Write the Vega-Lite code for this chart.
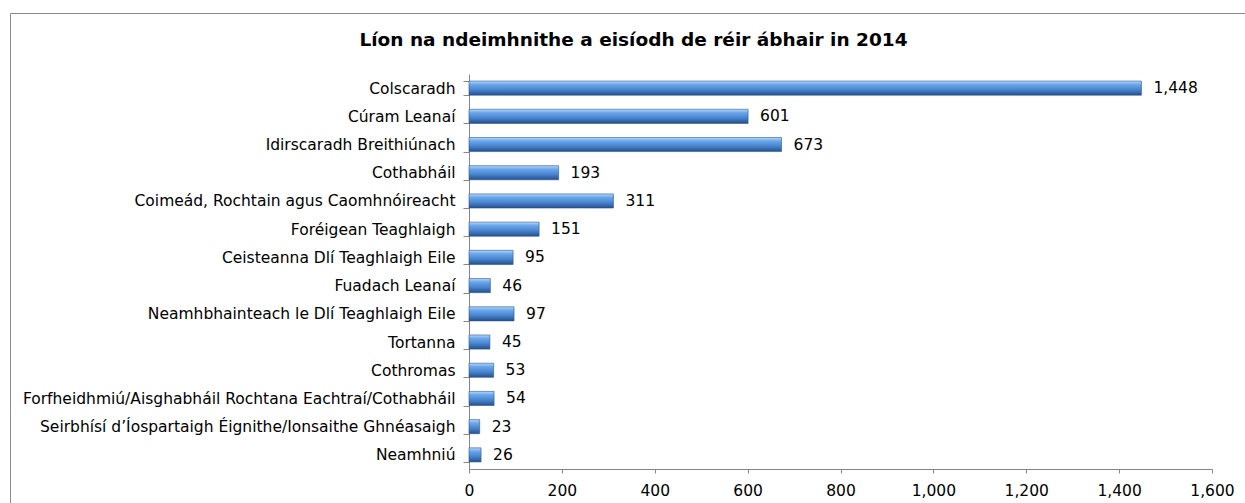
{
  "$schema": "https://vega.github.io/schema/vega-lite/v6.json",
  "width": 1235,
  "height": 490,
  "autosize": {"type": "none"},
  "padding": {"left": 10, "top": 13, "right": 0, "bottom": 0},
  "background": "white",
  "config": {
    "view": {"stroke": "#8c8c8c", "strokeWidth": 1},
    "font": "DejaVu Sans"
  },
  "title": {
    "text": "Líon na ndeimhnithe  a eisíodh de réir ábhair in 2014",
    "font": "DejaVu Sans",
    "fontSize": 18.5,
    "fontWeight": "bold",
    "color": "#000000",
    "anchor": "middle",
    "frame": "group",
    "baseline": "top",
    "offset": -43,
    "dx": 6
  },
  "data": {
    "values": [
      {"category": "Colscaradh", "value": 1448},
      {"category": "Cúram Leanaí", "value": 601},
      {"category": "Idirscaradh Breithiúnach", "value": 673},
      {"category": "Cothabháil", "value": 193},
      {"category": "Coimeád, Rochtain agus Caomhnóireacht", "value": 311},
      {"category": "Foréigean Teaghlaigh", "value": 151},
      {"category": "Ceisteanna Dlí Teaghlaigh Eile", "value": 95},
      {"category": "Fuadach Leanaí", "value": 46},
      {"category": "Neamhbhainteach le Dlí Teaghlaigh Eile", "value": 97},
      {"category": "Tortanna", "value": 45},
      {"category": "Cothromas", "value": 53},
      {"category": "Forfheidhmiú/Aisghabháil Rochtana Eachtraí/Cothabháil", "value": 54},
      {"category": "Seirbhísí d’Íospartaigh Éignithe/Ionsaithe Ghnéasaigh", "value": 23},
      {"category": "Neamhniú", "value": 26}
    ]
  },
  "encoding": {
    "y": {
      "field": "category",
      "type": "nominal",
      "sort": null,
      "title": null,
      "scale": {"range": [61, 456], "paddingInner": 0.5, "paddingOuter": 0.25},
      "axis": {
        "offset": -459,
        "tickBand": "extent",
        "tickSize": 6,
        "tickColor": "#868686",
        "domainColor": "#868686",
        "labelPadding": 8,
        "labelFont": "DejaVu Sans",
        "labelFontSize": 15.5,
        "labelColor": "#000000",
        "labelLimit": 600,
        "grid": false
      }
    }
  },
  "layer": [
    {
      "mark": {
        "type": "bar",
        "stroke": "#2a5590",
        "strokeWidth": 0.6,
        "color": {
          "gradient": "linear",
          "x1": 0, "y1": 0, "x2": 0, "y2": 1,
          "stops": [
            {"offset": 0, "color": "#b5d8fa"},
            {"offset": 0.25, "color": "#6aa6ea"},
            {"offset": 0.6, "color": "#4a86d0"},
            {"offset": 1, "color": "#24508c"}
          ]
        }
      },
      "encoding": {
        "x": {
          "field": "value",
          "type": "quantitative",
          "title": null,
          "scale": {"domain": [0, 1600], "range": [459, 1202], "nice": false, "zero": true},
          "axis": {
            "orient": "bottom",
            "offset": -34,
            "values": [0, 200, 400, 600, 800, 1000, 1200, 1400, 1600],
            "format": ",.0f",
            "grid": false,
            "tickSize": 4,
            "tickColor": "#868686",
            "domainColor": "#868686",
            "labelPadding": 10,
            "labelFont": "DejaVu Sans",
            "labelFontSize": 15.5,
            "labelColor": "#000000",
            "labelFlush": false
          }
        }
      }
    },
    {
      "mark": {"type": "text", "align": "left", "baseline": "middle", "dx": 12, "font": "DejaVu Sans", "fontSize": 15.5, "color": "#000000"},
      "encoding": {
        "x": {"field": "value", "type": "quantitative"},
        "text": {"field": "value", "type": "quantitative", "format": ","}
      }
    }
  ]
}
